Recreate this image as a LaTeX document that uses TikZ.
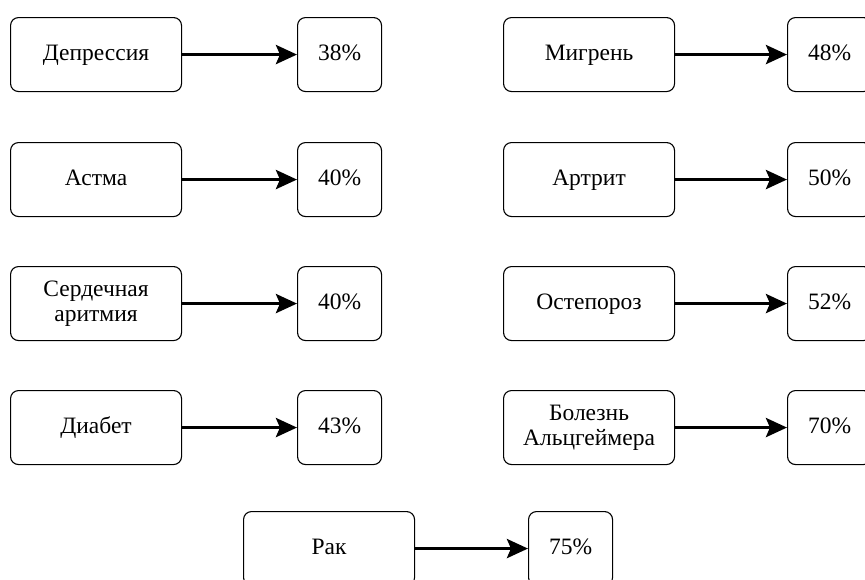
\documentclass[tikz,border=0pt]{standalone}
\usepackage{fontspec}
\setmainfont{Liberation Serif}
\usetikzlibrary{arrows.meta}
\newcommand\mystr{\rule[-4pt]{0pt}{20pt}}
\begin{document}
\begin{tikzpicture}[x=1pt,y=-1pt,
  lbox/.style={draw, line width=1.1pt, rounded corners=8pt, minimum width=171pt, minimum height=74pt, inner sep=0pt, anchor=north west, align=center, font=\fontsize{23.5}{25}\selectfont},
  vbox/.style={draw, line width=1.1pt, rounded corners=8pt, minimum width=84pt, minimum height=74pt, inner sep=0pt, anchor=north west, align=center, font=\fontsize{23.5}{25}\selectfont},
  conn/.style={line width=3.6pt, -{Stealth[length=21pt,width=19pt,inset=4pt]}}]
\useasboundingbox (0,0) rectangle (865,579);
% left column
\node[lbox] (a1) at (10,17) {\mystr Депрессия};
\node[vbox] (b1) at (297,17) {\mystr 38\%};
\node[lbox] (a2) at (10,142) {\mystr Астма};
\node[vbox] (b2) at (297,142) {\mystr 40\%};
\node[lbox] (a3) at (10,266) {\mystr Сердечная\\\mystr аритмия};
\node[vbox] (b3) at (297,266) {\mystr 40\%};
\node[lbox] (a4) at (10,390) {\mystr Диабет};
\node[vbox] (b4) at (297,390) {\mystr 43\%};
% right column
\node[lbox] (c1) at (503,17) {\mystr Мигрень};
\node[vbox] (d1) at (787,17) {\mystr 48\%};
\node[lbox] (c2) at (503,142) {\mystr Артрит};
\node[vbox] (d2) at (787,142) {\mystr 50\%};
\node[lbox] (c3) at (503,266) {\mystr Остепороз};
\node[vbox] (d3) at (787,266) {\mystr 52\%};
\node[lbox] (c4) at (503,390) {\mystr Болезнь\\\mystr Альцгеймера};
\node[vbox] (d4) at (787,390) {\mystr 70\%};
% bottom
\node[lbox] (e) at (243,511) {\mystr Рак};
\node[vbox] (f) at (528,511) {\mystr 75\%};
\foreach \s/\t in {a1/b1,a2/b2,a3/b3,a4/b4,c1/d1,c2/d2,c3/d3,c4/d4,e/f}
  \draw[conn] (\s.east) -- (\t.west);
\end{tikzpicture}
\end{document}
